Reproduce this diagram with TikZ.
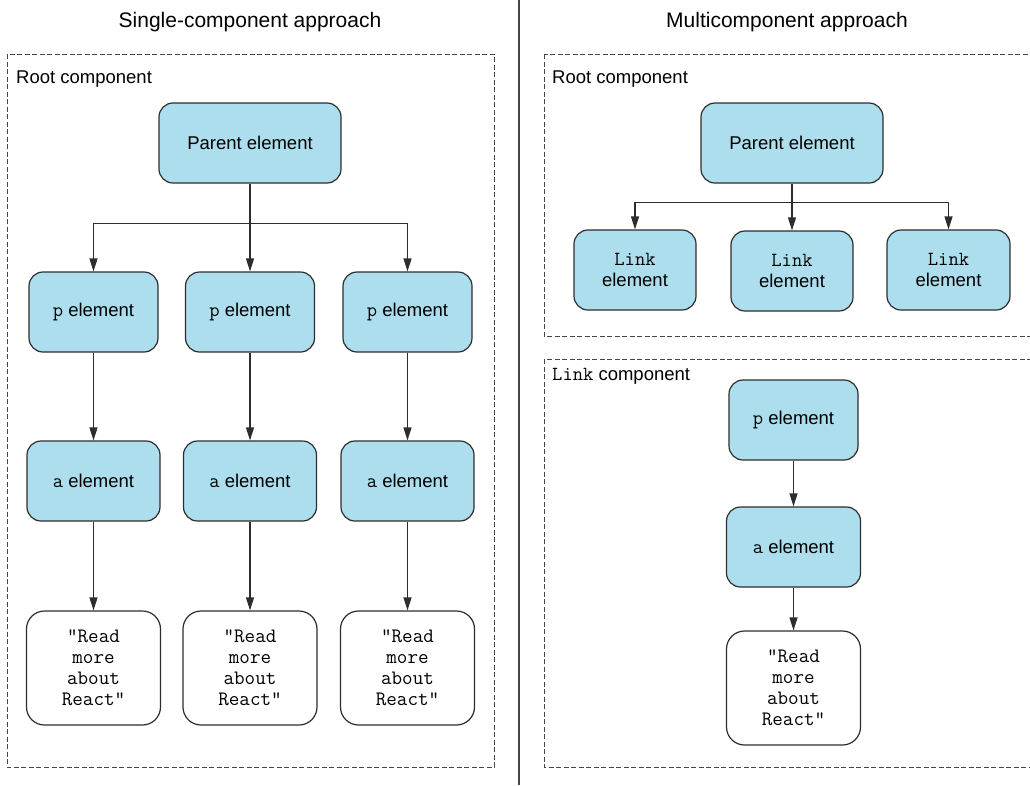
\documentclass[tikz,border=0pt]{standalone}
\usepackage{fontspec}
\setmainfont{Liberation Sans}
\setsansfont{Liberation Sans}
\usetikzlibrary{arrows.meta}

\definecolor{boxblue}{RGB}{173,222,238}
\definecolor{edge}{RGB}{45,45,45}
\definecolor{frame}{RGB}{70,70,70}

\newcommand{\code}[1]{{\ttfamily\fontsize{20}{21.5}\selectfont #1}}

\tikzset{
  elem/.style={draw=edge, line width=1.2pt, fill=boxblue, rounded corners=14pt,
    minimum width=129pt, minimum height=80pt, align=center, inner sep=0pt,
    font=\fontsize{18.5}{21.5}\selectfont},
  textbox/.style={draw=edge, line width=1.2pt, fill=white, rounded corners=18pt,
    minimum width=134pt, minimum height=114pt, align=center, inner sep=0pt,
    font=\fontsize{20.5}{21}\selectfont\ttfamily},
  region/.style={draw=frame, line width=0.9pt, dash pattern=on 5pt off 2.5pt},
  label/.style={anchor=west, inner sep=0pt, font=\fontsize{18.5}{21.5}\selectfont},
  heading/.style={inner sep=0pt, font=\fontsize{21}{24}\selectfont},
  arr/.style={draw=edge, line width=1.2pt, -{Triangle[length=13pt,width=8pt]}},
}

\begin{document}
\begin{tikzpicture}[x=1pt, y=-1pt]
\useasboundingbox (0,0) rectangle (1030,785);
\clip (0,0) rectangle (1030,785);

% divider between the two approaches
\draw[frame, line width=1.3pt] (519,0) -- (519,785);

% headings
\node[heading] (hleft) at (250,22) {Single-component approach};
\node[heading] (hright) at (787,22) {Multicomponent approach};

% ---------- single-component approach ----------
\draw[region] (7,54) rectangle (494,767);
\node[label] (lroot) at (16,79) {Root component};

\node[elem, minimum width=182pt] (par) at (250,143) {Parent element};

\foreach \i/\x in {1/93.5, 2/250, 3/407.5}{
  \node[elem] (p\i) at (\x,312) {\code{p} element};
  \node[elem, minimum width=133pt] (a\i) at (\x,481) {\code{a} element};
  \node[textbox] (t\i) at (\x,668) {"Read\\more\\about\\React"};
  \draw[arr] (p\i.south) -- (a\i.north);
  \draw[arr] (a\i.south) -- (t\i.north);
}
\draw[arr] (par.south) -- ++(0,40) -| (p1.north);
\draw[arr] (par.south) -- (p2.north);
\draw[arr] (par.south) -- ++(0,40) -| (p3.north);

% ---------- multicomponent approach ----------
\draw[region] (544,54) rectangle (1040,336);
\node[label] (rroot) at (552,79) {Root component};

\node[elem, minimum width=182pt] (rpar) at (792,143) {Parent element};
\node[elem, minimum width=122pt] (l1) at (635,270) {\code{Link}\\element};
\node[elem, minimum width=122pt] (l2) at (792,271) {\code{Link}\\element};
\node[elem, minimum width=123pt] (l3) at (948.5,270) {\code{Link}\\element};

\draw[arr] (rpar.south) -- ++(0,19) -| (l1.north);
\draw[arr] (rpar.south) -- (l2.north);
\draw[arr] (rpar.south) -- ++(0,19) -| (l3.north);

\draw[region] (544,359) rectangle (1040,767);
\node[label] (lcomp) at (552,376) {\code{Link} component};

\node[elem] (lp) at (793.5,420) {\code{p} element};
\node[elem, minimum width=134pt] (la) at (793.5,547) {\code{a} element};
\node[textbox] (lt) at (793.5,688) {"Read\\more\\about\\React"};

\draw[arr] (lp.south) -- (la.north);
\draw[arr] (la.south) -- (lt.north);
\end{tikzpicture}
\end{document}
